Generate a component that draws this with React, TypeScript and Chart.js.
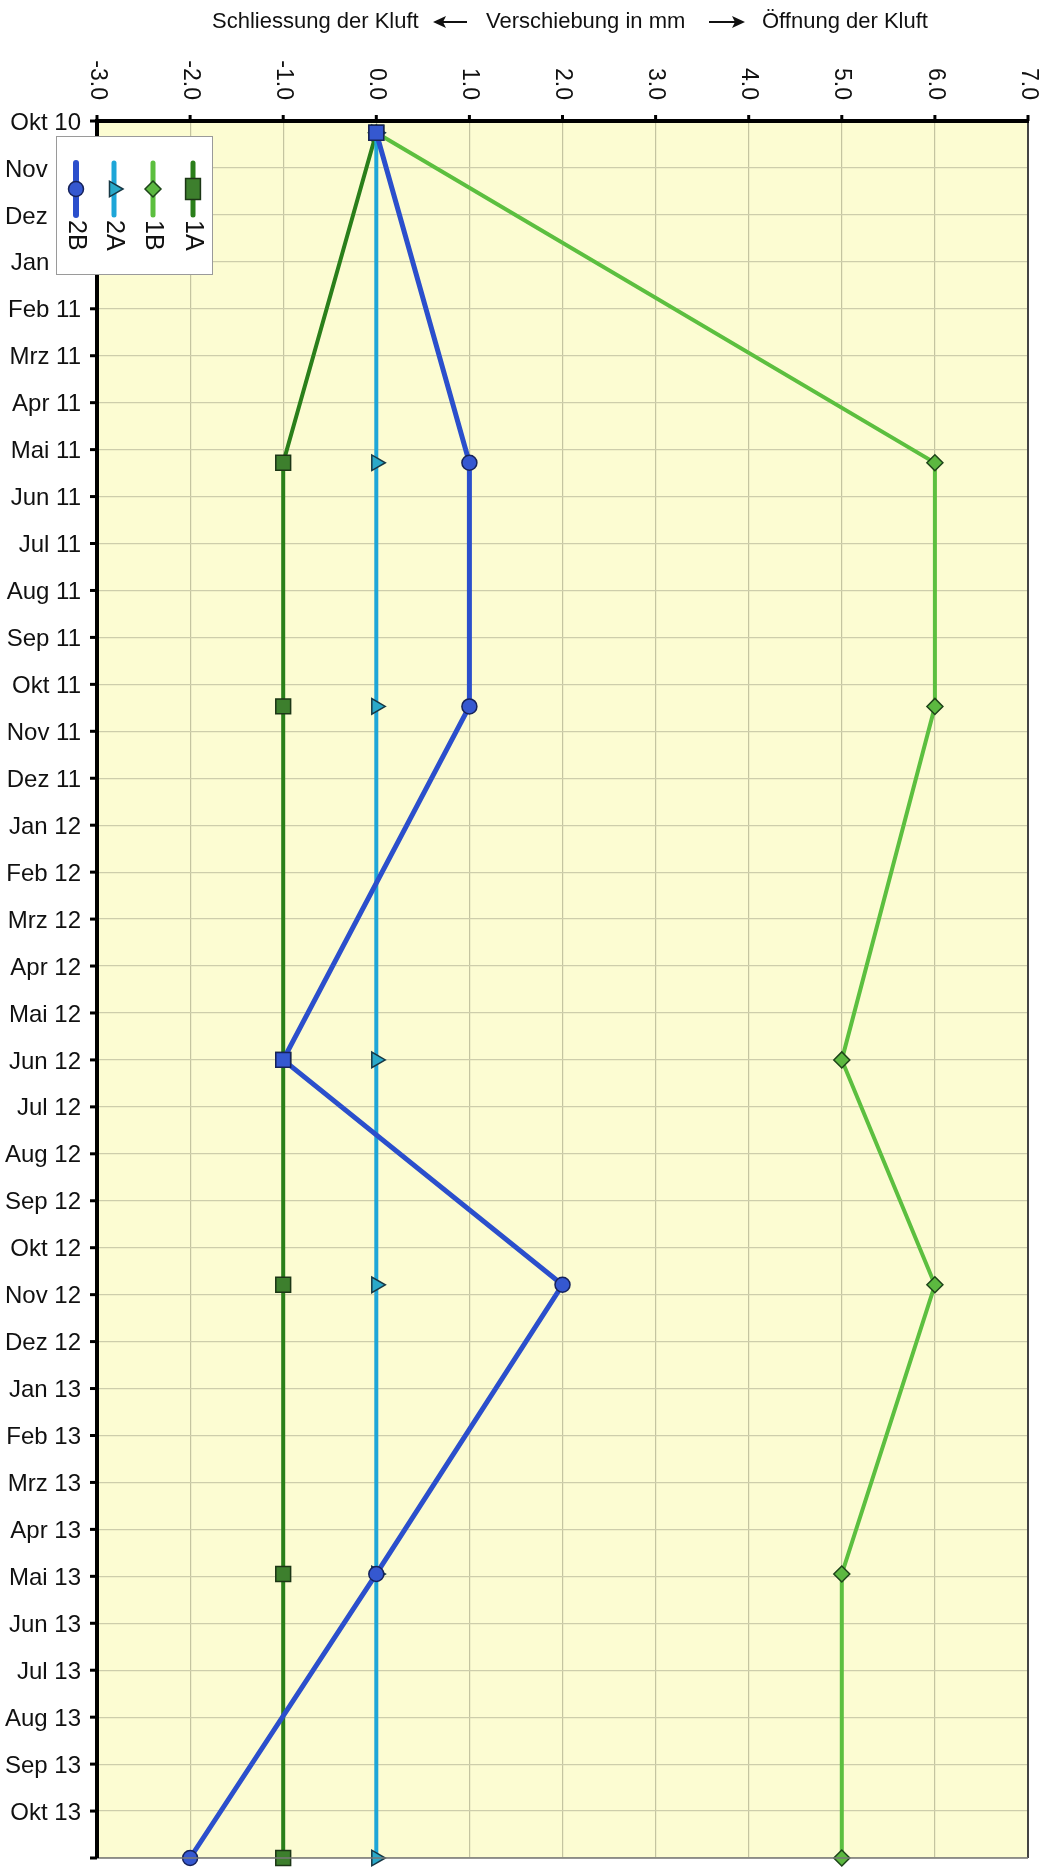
import React, { useEffect, useRef } from "react";
import { Chart, registerables } from "chart.js";

Chart.register(...registerables);

// ---- data ----
const monthLabels = [
  "Okt 10", "Nov 10", "Dez 10", "Jan 11", "Feb 11", "Mrz 11", "Apr 11", "Mai 11", "Jun 11", "Jul 11",
  "Aug 11", "Sep 11", "Okt 11", "Nov 11", "Dez 11", "Jan 12", "Feb 12", "Mrz 12", "Apr 12",
  "Mai 12", "Jun 12", "Jul 12", "Aug 12", "Sep 12", "Okt 12", "Nov 12", "Dez 12", "Jan 13",
  "Feb 13", "Mrz 13", "Apr 13", "Mai 13", "Jun 13", "Jul 13", "Aug 13", "Sep 13", "Okt 13", "",
];
// measurement times in months after Okt 10
const measureTimes = [0.25, 7.28, 12.47, 20.0, 24.79, 30.95, 37];
const series2B = [0, 1, 1, -1, 2, 0, -2];
const series2A = [0, 0, 0, 0, 0, 0, 0];
const series1B = [0, 6, 6, 5, 6, 5, 5];
const series1A = [0, -1, -1, -1, -1, -1, -1];
const xTickValues = [-3, -2, -1, 0, 1, 2, 3, 4, 5, 6, 7];
const titleLeft = "Schliessung der Kluft";
const titleMid = "Verschiebung in mm";
const titleRight = "Öffnung der Kluft";
const seriesNames = ["2B", "2A", "1B", "1A"];

const FONT = '"Liberation Sans", Arial, sans-serif';

const toPoints = (vals: number[]) => vals.map((v, i) => ({ x: v, y: measureTimes[i] }));

const styles = [
  { line: "#2b4fcc", fill: "#3558d0", border: "#16225a", style: "circle", radius: 7.5, rot: 0, width: 5 },
  { line: "#1ea6d8", fill: "#2aa9c9", border: "#173845", style: "triangle", radius: 9, rot: 90, width: 4 },
  { line: "#5cbf3f", fill: "#5cb840", border: "#1d4419", style: "rectRot", radius: 8, rot: 0, width: 4 },
  { line: "#2a7f1a", fill: "#3d7f2d", border: "#1c3616", style: "rect", radius: 10.5, rot: 0, width: 4 },
];

const drawMarker = (ctx: CanvasRenderingContext2D, style: string, r: number, x: number, y: number) => {
  ctx.beginPath();
  if (style === "circle") {
    ctx.arc(x, y, r, 0, Math.PI * 2);
  } else if (style === "triangle") {
    ctx.moveTo(x + r, y);
    ctx.lineTo(x - r / 2, y - r * 0.866);
    ctx.lineTo(x - r / 2, y + r * 0.866);
  } else if (style === "rectRot") {
    ctx.moveTo(x, y - r);
    ctx.lineTo(x + r, y);
    ctx.lineTo(x, y + r);
    ctx.lineTo(x - r, y);
  } else {
    const s = r * Math.SQRT1_2;
    ctx.rect(x - s, y - s * 1.4, 2 * s, 2.8 * s);
  }
  ctx.closePath();
  ctx.fill();
  ctx.stroke();
};

const drawArrow = (ctx: CanvasRenderingContext2D, x1: number, x2: number, y: number) => {
  const dir = x2 > x1 ? 1 : -1;
  ctx.save();
  ctx.strokeStyle = "#111";
  ctx.fillStyle = "#111";
  ctx.lineWidth = 2;
  ctx.beginPath();
  ctx.moveTo(x1, y);
  ctx.lineTo(x2 - dir * 10, y);
  ctx.stroke();
  ctx.beginPath();
  ctx.moveTo(x2, y);
  ctx.lineTo(x2 - dir * 13, y - 6);
  ctx.lineTo(x2 - dir * 10, y);
  ctx.lineTo(x2 - dir * 13, y + 6);
  ctx.closePath();
  ctx.fill();
  ctx.restore();
};

const decorPlugin = {
  id: "decor",
  beforeDraw(chart: any) {
    const { ctx, chartArea } = chart;
    ctx.save();
    ctx.fillStyle = "#ffffff";
    ctx.fillRect(0, 0, chart.width, chart.height);
    ctx.fillStyle = "#fcfcd2";
    ctx.fillRect(chartArea.left, chartArea.top, chartArea.right - chartArea.left, chartArea.bottom - chartArea.top);
    ctx.restore();
  },
  afterDraw(chart: any) {
    const { ctx, chartArea } = chart;
    const xs = chart.scales.x;
    const ys = chart.scales.y;
    const L = chartArea.left, R = chartArea.right, T = chartArea.top, B = chartArea.bottom;
    ctx.save();
    // right and bottom borders
    ctx.strokeStyle = "#444";
    ctx.lineWidth = 2;
    ctx.beginPath();
    ctx.moveTo(R, T);
    ctx.lineTo(R, B);
    ctx.stroke();
    ctx.strokeStyle = "#777";
    ctx.lineWidth = 1.5;
    ctx.beginPath();
    ctx.moveTo(L, B);
    ctx.lineTo(R, B);
    ctx.stroke();
    // top axis
    ctx.strokeStyle = "#000";
    ctx.lineWidth = 4;
    ctx.beginPath();
    ctx.moveTo(L - 2, T);
    ctx.lineTo(R + 1, T);
    ctx.stroke();
    // left axis
    ctx.beginPath();
    ctx.moveTo(L, T - 2);
    ctx.lineTo(L, B);
    ctx.stroke();
    // top ticks + labels
    ctx.lineWidth = 3;
    ctx.fillStyle = "#111";
    ctx.font = `23px ${FONT}`;
    xTickValues.forEach((v) => {
      const px = xs.getPixelForValue(v);
      ctx.beginPath();
      ctx.moveTo(px, T);
      ctx.lineTo(px, T - 6);
      ctx.stroke();
      ctx.save();
      ctx.translate(px, 100);
      ctx.rotate(Math.PI / 2);
      ctx.textAlign = "right";
      ctx.textBaseline = "middle";
      ctx.fillText(v.toFixed(1), 0, 0);
      ctx.restore();
    });
    // left ticks + labels
    ctx.font = `24px ${FONT}`;
    ctx.textAlign = "right";
    ctx.textBaseline = "middle";
    monthLabels.forEach((lab, i) => {
      const py = ys.getPixelForValue(i);
      ctx.beginPath();
      ctx.moveTo(L, py);
      ctx.lineTo(L - 7, py);
      ctx.stroke();
      if (lab) ctx.fillText(lab, 81, py + 2);
    });
    // title
    ctx.font = `22px ${FONT}`;
    ctx.textAlign = "left";
    ctx.textBaseline = "middle";
    ctx.fillText(titleLeft, 212, 22);
    drawArrow(ctx, 467, 433, 22);
    ctx.fillText(titleMid, 486, 22);
    drawArrow(ctx, 709, 745, 22);
    ctx.fillText(titleRight, 762, 22);
    // legend
    ctx.fillStyle = "#ffffff";
    ctx.fillRect(56, 136, 156, 138);
    ctx.strokeStyle = "#9a9a9a";
    ctx.lineWidth = 1;
    ctx.strokeRect(56.5, 136.5, 156, 138);
    const legX = [76, 114, 153, 193];
    seriesNames.forEach((name, i) => {
      const st = styles[i];
      const x = legX[i];
      ctx.strokeStyle = st.line;
      ctx.lineWidth = st.width + 1;
      ctx.lineCap = "round";
      ctx.beginPath();
      ctx.moveTo(x, 163);
      ctx.lineTo(x, 215);
      ctx.stroke();
      ctx.lineCap = "butt";
      ctx.fillStyle = st.fill;
      ctx.strokeStyle = st.border;
      ctx.lineWidth = 1.5;
      drawMarker(ctx, st.style, st.radius, x, 189);
      ctx.save();
      ctx.fillStyle = "#111";
      ctx.font = `25px ${FONT}`;
      ctx.translate(x, 220);
      ctx.rotate(Math.PI / 2);
      ctx.textAlign = "left";
      ctx.textBaseline = "middle";
      ctx.fillText(name, 0, 0);
      ctx.restore();
    });
    ctx.restore();
  },
};

export default function App() {
  const canvasRef = useRef<HTMLCanvasElement | null>(null);

  useEffect(() => {
    document.body.style.margin = "0";
    document.body.style.overflow = "hidden";
    const canvas = canvasRef.current;
    if (!canvas) return;
    const seriesValues = [series2B, series2A, series1B, series1A];
    const pointStyles2B = measureTimes.map((_, i) => (series2B[i] === series1A[i] ? "rect" : "circle"));
    const datasets = seriesNames.map((name, i) => {
      const st = styles[i];
      return {
        label: name,
        data: toPoints(seriesValues[i]),
        showLine: true,
        borderColor: st.line,
        borderWidth: st.width,
        backgroundColor: st.fill,
        pointBackgroundColor: st.fill,
        pointBorderColor: st.border,
        pointBorderWidth: 1.5,
        pointStyle: i === 0 ? pointStyles2B : st.style,
        pointRadius: i === 0 ? pointStyles2B.map((s) => (s === "rect" ? 10.5 : 7.5)) : st.radius,
        pointRotation: st.rot,
        tension: 0,
        clip: false,
      };
    });
    const chart = new Chart(canvas, {
      type: "scatter",
      data: { datasets },
      options: {
        animation: false,
        responsive: false,
        devicePixelRatio: 1,
        layout: { padding: { left: 97, right: 21, top: 121, bottom: 5 } },
        plugins: { legend: { display: false }, tooltip: { enabled: false }, title: { display: false } },
        scales: {
          x: {
            type: "linear",
            position: "top",
            min: -3,
            max: 7,
            ticks: { display: false, stepSize: 1 },
            grid: { color: "#c4c4a0", lineWidth: 1.2, drawTicks: false },
            border: { display: false },
          },
          y: {
            type: "linear",
            reverse: true,
            min: 0,
            max: 37,
            ticks: { display: false, stepSize: 1 },
            grid: { color: "#cdcdab", lineWidth: 1.2, drawTicks: false },
            border: { display: false },
          },
        },
      },
      plugins: [decorPlugin],
    });
    return () => chart.destroy();
  }, []);

  return (
    <div style={{ width: 1049, height: 1870, overflow: "hidden" }}>
      <canvas ref={canvasRef} width={1049} height={1870} style={{ display: "block" }} />
    </div>
  );
}
